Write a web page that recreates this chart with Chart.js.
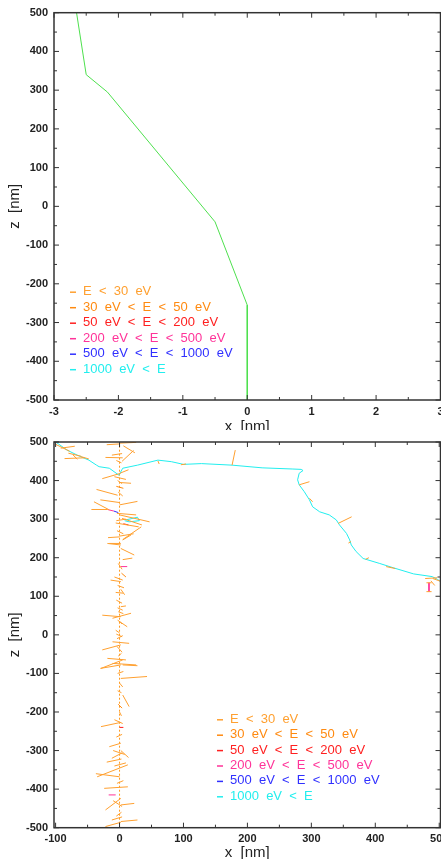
<!DOCTYPE html>
<html>
<head>
<meta charset="utf-8">
<script src="https://cdn.jsdelivr.net/npm/chart.js@4.4.1/dist/chart.umd.min.js"></script>
<style>
  body { margin: 0; background: #fff; width: 441px; height: 859px; overflow: hidden; }
  .panel { position: relative; width: 441px; overflow: hidden; }
  canvas { display: block; }
</style>
</head>
<body>
<div class="panel" style="height:430px"><canvas id="topChart" width="441" height="440"></canvas></div>
<div class="panel" style="height:429px"><canvas id="bottomChart" width="441" height="432"></canvas></div>
<script>
// axis ticks
const zTicks = [-500, -400, -300, -200, -100, 0, 100, 200, 300, 400, 500];
const topXTicks = [-3, -2, -1, 0, 1, 2, 3];
const bottomXTicks = [-100, 0, 100, 200, 300, 400, 500];

// energy classes (legend)
const classLabels = [
  'E  <  30  eV',
  '30  eV  <  E  <  50  eV',
  '50  eV  <  E  <  200  eV',
  '200  eV  <  E  <  500  eV',
  '500  eV  <  E  <  1000  eV',
  '1000  eV  <  E'
];

// primary track (green), x in nm, z in nm
const primaryX = [-2.65, -2.5, -2.17, -0.5, 0, 0];
const primaryZ = [500, 340, 295, -40, -255, -500];

// fast secondary electron (1000 eV < E), [x, z]
const cyanTrack = [
  [-103, 500], [-99, 499], [-82, 479], [-65, 465], [-48, 453], [-36, 440], [-32, 436],
  [-16, 432], [-1, 414], [5, 432], [28, 440], [60, 453], [81, 449], [100, 442], [128, 444],
  [176, 440], [223, 433], [270, 430], [284, 429], [287, 426], [281, 419], [278.5, 402],
  [281, 389], [289, 371], [297, 350], [302, 332], [313, 319], [328, 311], [339, 298],
  [344, 285], [355, 263], [360, 246], [362.5, 233], [370, 216], [381, 198], [407, 185],
  [428, 174], [460, 158], [489, 151], [497, 144], [507, 133]
];
const cyanLoop = [[10, 298], [28, 305], [31, 296], [15, 293], [8, 296]];

// short secondary tracks [x1, z1, x2, z2]
const lowSegs = [
  [-100, 494, -78, 476], [-92, 484, -70, 489], [-86, 457, -55, 459], [-80, 471, -60, 463],
  [-73, 467, -66, 455], [-60, 462, -48, 456], [-20, 493, 0, 495], [0, 497, 26, 499],
  [6, 490, 24, 472], [-22, 460, 5, 459], [-12, 466, 4, 470], [4, 450, 22, 478],
  [-5, 452, 3, 446], [-27, 405, 2, 419], [2, 420, 14, 428], [-8, 410, 10, 403],
  [-3, 400, 4, 392], [176, 440, 181, 479], [60, 451, 62, 443], [96, 441, 104, 443],
  [281, 389, 297, 397], [297, 354, 302, 345], [342, 289, 363, 306], [358, 238, 362, 242],
  [385, 196, 390, 200], [417, 177, 431, 172], [478, 146, 497, 148], [487, 140, 493, 128],
  [490, 146, 505, 137], [480, 135, 488, 135], [480, 112, 488, 112],
  [-36, 377, -3, 362], [0, 395, 18, 393], [-30, 350, 0, 343], [0, 337, 28, 346],
  [-40, 345, -16, 324], [-44, 325, -19, 325], [-4, 315, 26, 311], [-2, 370, 5, 360],
  [0, 311, 47, 293], [4, 302, 35, 285], [-6, 290, 30, 280], [5, 247, 34, 280],
  [-5, 296, 10, 300], [-18, 252, 0, 254], [0, 256, 22, 262],
  [-16, 237, 2, 237], [-19, 237, 2, 233], [5, 246, 18, 259], [2, 224, 23, 207],
  [5, 195, 20, 199], [-2, 185, 4, 170], [-8, 150, 5, 142], [-14, 142, 2, 138],
  [-6, 110, 6, 108], [2, 118, 8, 104], [-5, 90, 4, 82], [2, 73, 10, 75], [-3, 70, 5, 64],
  [-27, 51, 2, 47], [-11, 43, 18, 56], [-3, 38, 12, 21], [-2, 60, 6, 55],
  [-6, 12, 0, 5], [-5, 2, 4, -5], [-11, -18, 15, -22], [-27, -39, 2, -26], [-4, -30, 4, -45],
  [-19, -61, 10, -65], [-29, -87, 5, -65], [-11, -74, 26, -78], [-30, -87, 2, -78],
  [5, -78, 28, -80], [2, -113, 43, -108], [0, -125, 5, -135], [5, -156, 15, -186],
  [-3, -145, 3, -150], [-29, -238, 2, -227], [-8, -220, 5, -230], [0, -200, 3, -210],
  [-16, -290, 2, -281], [-10, -300, 8, -310], [-12, -320, 4, -306], [2, -300, 14, -318],
  [-20, -330, 3, -322], [-8, -340, 10, -332], [-37, -360, 0, -368], [-35, -368, 13, -337],
  [-24, -398, 13, -394], [2, -441, 23, -437], [-22, -454, 2, -424], [-10, -430, 4, -445],
  [2, -484, 28, -480], [-22, -497, 2, -486], [-5, -470, 3, -460], [-12, -480, 4, -472],
  [-4, 270, 6, 262], [-3, 128, 7, 122], [-4, -10, 5, -2], [-3, -100, 6, -95],
  [-5, -265, 4, -258], [-4, -385, 6, -378], [0, 35, 4, 28], [-2, -55, 3, -48]
];
const midSegs = [[-5, 385, 6, 380], [3, 160, 10, 150], [-2, -180, 4, -190]];
const redSegs = [[0, -240, 6, -240], [6, 288, 14, 285]];
const pinkSegs = [[-19, 325, -9, 321], [2, 177, 12, 177], [-17, -415, -6, -415], [484, 135, 484, 112]];
const blueSegs = [[-9, 321, -2, 317]];
const spineZ = [-500, 500];

const classColors = ['#ffa030', '#ff8a10', '#ff2020', '#ff3399', '#3030ff', '#22eeee'];
const labelFont = { family: '"Liberation Sans", Arial, sans-serif', size: 11, weight: 'bold' };
const titleFont = { family: '"Liberation Sans", Arial, sans-serif', size: 15 };

function pairs(list) { return list.map(p => ({ x: p[0], y: p[1] })); }
function segs(list) {
  const out = [];
  list.forEach(s => { out.push({ x: s[0], y: s[1] }, { x: s[2], y: s[3] }, { x: null, y: null }); });
  return out;
}
function line(data, color, extra) {
  return Object.assign({ data, borderColor: color, borderWidth: 1, pointRadius: 0, fill: false, tension: 0, spanGaps: false }, extra || {});
}

const framePlugin = {
  id: 'frame',
  afterDatasetsDraw(chart, args, opts) {
    const { ctx, chartArea: a, scales: { x, y } } = chart;
    ctx.save();
    const mids = t => t.slice(1).map((v, i) => (v + t[i]) / 2);
    ctx.strokeStyle = '#333';
    ctx.lineWidth = 1;
    const xt = opts.xTicks, yt = opts.yTicks;
    [[xt, 5], [mids(xt), 3]].forEach(([vals, len]) => vals.forEach(v => {
      const px = x.getPixelForValue(v);
      ctx.beginPath();
      ctx.moveTo(px, a.bottom); ctx.lineTo(px, a.bottom - len);
      ctx.moveTo(px, a.top); ctx.lineTo(px, a.top + len);
      ctx.stroke();
    }));
    [[yt, 5], [mids(yt), 3]].forEach(([vals, len]) => vals.forEach(v => {
      const py = y.getPixelForValue(v);
      ctx.beginPath();
      ctx.moveTo(a.left, py); ctx.lineTo(a.left + len, py);
      ctx.moveTo(a.right, py); ctx.lineTo(a.right - len, py);
      ctx.stroke();
    }));
    ctx.lineWidth = 1.5;
    ctx.strokeRect(a.left, a.top, a.right - a.left, a.bottom - a.top);

    // legend inside the plot
    const items = chart.data.datasets.filter(d => d.legendText);
    ctx.font = '13px "Liberation Sans", Arial, sans-serif';
    ctx.textBaseline = 'middle';
    items.forEach((d, i) => {
      const lx = a.left + opts.legendDx, ly = a.top + opts.legendDy + i * opts.legendRow;
      ctx.strokeStyle = d.legendColor;
      ctx.lineWidth = 1.5;
      ctx.beginPath(); ctx.moveTo(lx, ly + 0.5); ctx.lineTo(lx + 6, ly + 0.5); ctx.stroke();
      ctx.fillStyle = d.legendColor;
      ctx.fillText(d.legendText, lx + 13, ly);
    });
    ctx.restore();
  }
};

function classSets(list) {
  // list: data for each energy class, in legend order
  return list.map((data, i) => line(data, classColors[i], { legendText: classLabels[i], legendColor: classColors[i] }));
}

function makeChart(id, o) {
  const primary = primaryX.map((v, i) => ({ x: v, y: primaryZ[i] }));
  const datasets = classSets(o.classData).concat([
    line(spineZ.map(z => ({ x: 0, y: z })), '#ff9a20', { borderDash: [2, 2], hidden: !o.spine }),
    line(primary, '#4ee04e', { hidden: o.spine })
  ]);
  return new Chart(document.getElementById(id), {
    type: 'line',
    data: { datasets },
    options: {
      responsive: false,
      animation: false,
      layout: { padding: { top: o.padTop, right: 0.5, left: 0, bottom: 0 } },
      plugins: {
        legend: { display: false },
        tooltip: { enabled: false },
        frame: { xTicks: o.xTicks, yTicks: zTicks, legendDx: o.legendDx, legendDy: o.legendDy, legendRow: o.legendRow }
      },
      scales: {
        x: {
          type: 'linear', min: o.xMin, max: o.xMax,
          grid: { display: false, drawTicks: false }, border: { display: false },
          afterBuildTicks: s => { s.ticks = o.xTicks.map(v => ({ value: v })); },
          ticks: { color: '#222', font: labelFont, padding: 5, maxRotation: 0, autoSkip: false, callback: v => String(v) },
          title: { display: true, text: 'x  [nm]', color: '#222', font: titleFont, padding: { top: 0, bottom: o.titlePad } },
          afterFit: s => { s.height = o.xHeight; s.paddingLeft = 0; s.paddingRight = 0; }
        },
        y: {
          type: 'linear', min: -500, max: 500,
          grid: { display: false, drawTicks: false }, border: { display: false },
          afterBuildTicks: s => { s.ticks = zTicks.map(v => ({ value: v })); },
          ticks: { color: '#222', font: labelFont, padding: 6, autoSkip: false, callback: v => String(v) },
          title: { display: true, text: 'z  [nm]', color: '#222', font: titleFont, padding: { top: 6, bottom: 0 } },
          afterFit: s => { s.width = 54; s.paddingTop = 0; s.paddingBottom = 0; }
        }
      }
    },
    plugins: [framePlugin]
  });
}

makeChart('topChart', {
  xMin: -3, xMax: 3, xTicks: topXTicks,
  classData: [[], [], [], [], [], []],
  spine: false,
  padTop: 12.7, xHeight: 40, titlePad: 4,
  legendDx: 16, legendDy: 279, legendRow: 15.5
});

makeChart('bottomChart', {
  xMin: -102.5, xMax: 502, xTicks: bottomXTicks,
  classData: [segs(lowSegs), segs(midSegs), segs(redSegs), segs(pinkSegs), segs(blueSegs),
              pairs(cyanTrack).concat([{ x: null, y: null }], pairs(cyanLoop))],
  spine: true,
  padTop: 12, xHeight: 34.3, titlePad: 0.3,
  legendDx: 163, legendDy: 277.3, legendRow: 15.4
});
</script>
</body>
</html>
